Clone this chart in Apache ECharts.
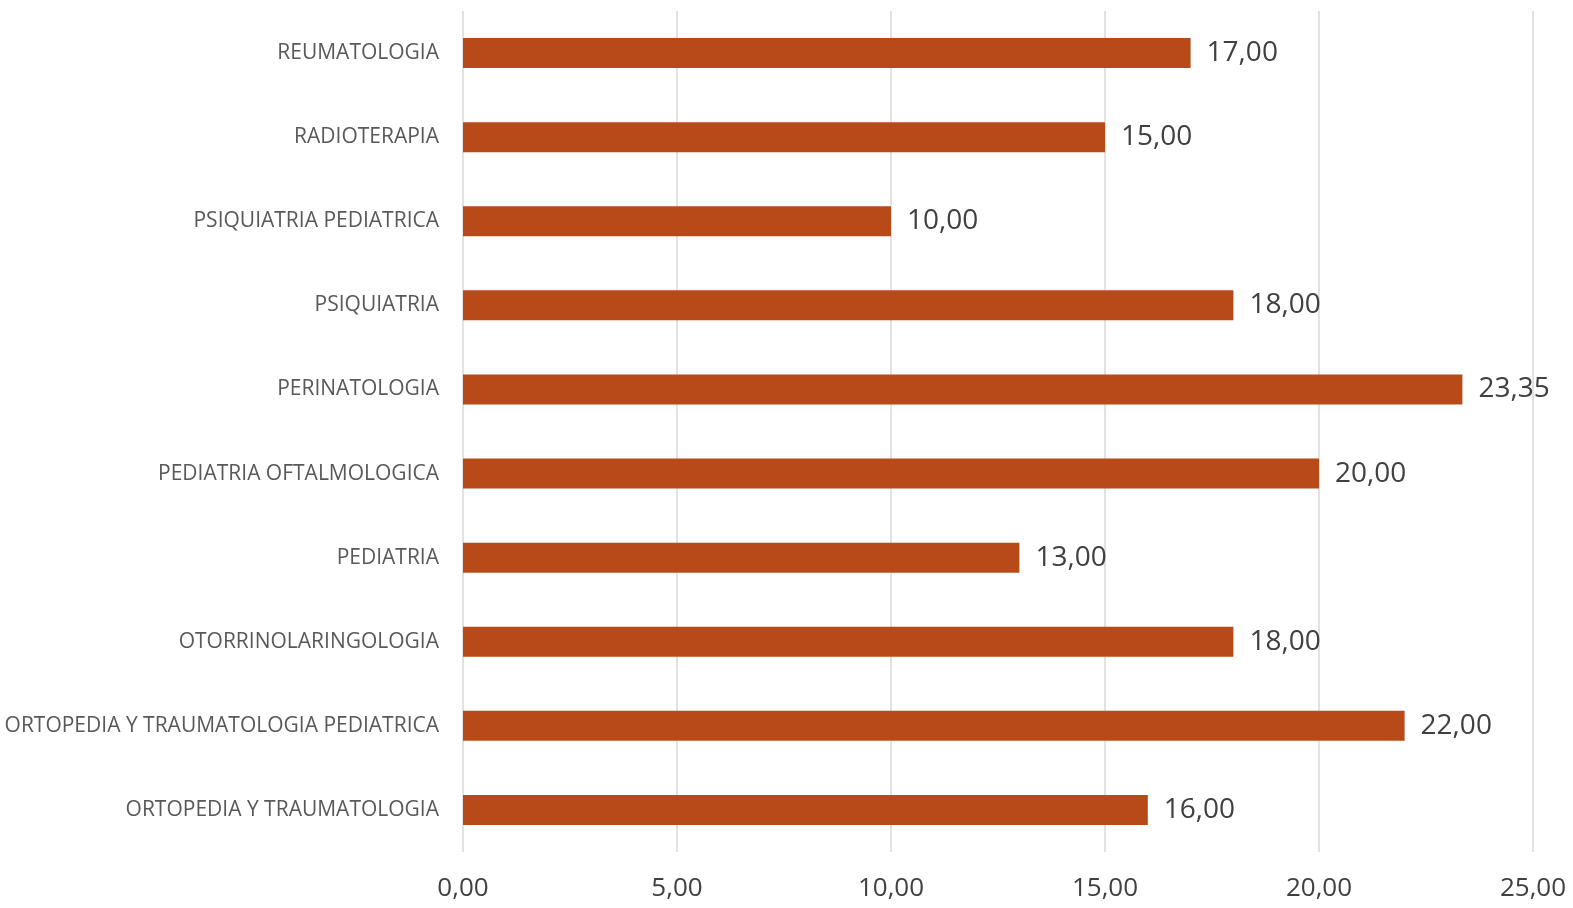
<!DOCTYPE html>
<html><head><meta charset="utf-8">
<script src="https://cdn.jsdelivr.net/npm/echarts@6/dist/echarts.min.js"></script>
<style>html,body{margin:0;padding:0;background:#fff}#c{width:1573px;height:908px}</style>
</head><body><div id="c"></div>
<script>
const categories = ["ORTOPEDIA Y TRAUMATOLOGIA","ORTOPEDIA Y TRAUMATOLOGIA PEDIATRICA","OTORRINOLARINGOLOGIA","PEDIATRIA","PEDIATRIA OFTALMOLOGICA","PERINATOLOGIA","PSIQUIATRIA","PSIQUIATRIA PEDIATRICA","RADIOTERAPIA","REUMATOLOGIA"];
const values = [16.00,22.00,18.00,13.00,20.00,23.35,18.00,10.00,15.00,17.00];
const tickValues = [0,5,10,15,20,25];
const fmt = v => Number(v).toFixed(2).replace('.', ',');
const chart = echarts.init(document.getElementById('c'), null, {renderer:'canvas'});
chart.setOption({
  animation:false,
  grid:{left:463,right:40,top:11,bottom:56,containLabel:false},
  xAxis:{type:'value',min:tickValues[0],max:tickValues[tickValues.length-1],interval:5,
    axisLine:{show:false},axisTick:{show:false},
    splitLine:{show:true,lineStyle:{color:'#d9d9d9',width:1.5}},
    axisLabel:{formatter:fmt,color:'#404040',fontFamily:'Open Sans',fontSize:26,margin:24}},
  yAxis:{type:'category',data:categories,
    axisLine:{show:false},axisTick:{show:false},
    axisLabel:{color:'#595959',fontFamily:'Open Sans',fontSize:21,margin:24,padding:[2,0,0,0]}},
  series:[{type:'bar',data:values,barWidth:30,itemStyle:{color:'#B84A1A'},
    label:{show:true,position:'right',distance:16,padding:[4,0,0,0],formatter:p=>fmt(p.value),color:'#404040',fontFamily:'Open Sans',fontSize:28}}]
});
</script></body></html>
